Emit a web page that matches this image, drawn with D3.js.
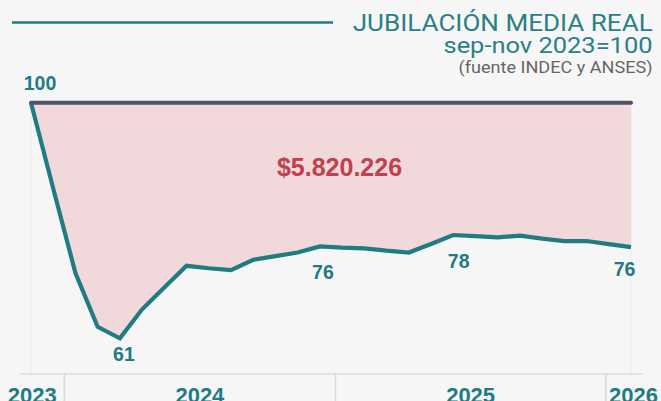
<!DOCTYPE html>
<html>
<head>
<meta charset="utf-8">
<script src="https://cdn.jsdelivr.net/npm/d3@7"></script>
<style>
  html, body { margin: 0; padding: 0; background: #f6f6f6; }
  svg { display: block; }
</style>
</head>
<body>
<div id="chart"></div>
<script>
// ---- data ----
const months = ["2023-11","2023-12","2024-01","2024-02","2024-03","2024-04","2024-05","2024-06",
  "2024-07","2024-08","2024-09","2024-10","2024-11","2024-12","2025-01","2025-02","2025-03",
  "2025-04","2025-05","2025-06","2025-07","2025-08","2025-09","2025-10","2025-11","2025-12",
  "2026-01","2026-02"];
const values = [100, 85.8, 71.8, 62.9, 61.0, 65.8, 69.4, 73.0, 72.6, 72.3, 74.0, 74.6, 75.2, 76.2,
  76.0, 75.9, 75.5, 75.2, 76.6, 78.1, 77.9, 77.7, 78.0, 77.5, 77.1, 77.1, 76.6, 76.1];
const baseValue = 100;
const labelIdx = [0, 4, 13, 19, 27];
const labelText = ["100", "61", "76", "78", "76"];
const yearLabels = ["2023", "2024", "2025", "2026"];
const yearBreaks = ["2024-01-01", "2025-01-01", "2026-01-01"];
const gapText = "$5.820.226";
const titleText = "JUBILACIÓN MEDIA REAL";
const subtitleText = "sep-nov 2023=100";
const sourceText = "(fuente INDEC y ANSES)";

// ---- layout / style ----
const W = 661, H = 401;
const teal = "#217c82", slate = "#4a566a", pink = "#f0d8db", red = "#c0414d";
const labelOffsets = { 0: [9, -12.7], 4: [4, 22.4], 13: [3, 32.3], 19: [5.5, 33.3], 27: [-6.5, 29.4] };

const svg = d3.select("#chart").append("svg").attr("width", W).attr("height", H);
svg.append("rect").attr("width", W).attr("height", H).attr("fill", "#f6f6f6");

const x = d3.scalePoint().domain(months).range([31, 631]);
const y = d3.scaleLinear().domain([100, 61]).range([102.7, 338.3]);
const parse = d3.timeParse("%Y-%m-%d");
const xt = d3.scaleTime().domain([new Date(2023, 10, 17), new Date(2026, 1, 4)]).range([31, 631]);

// faint plot edges
svg.selectAll("line.edge").data([months[0], months[months.length - 1]]).enter().append("line")
  .attr("x1", d => x(d)).attr("x2", d => x(d)).attr("y1", y(baseValue)).attr("y2", 374)
  .attr("stroke", "#ececec").attr("stroke-width", 1);

// area between 100 and series
const data = months.map((m, i) => ({ m, v: values[i] }));
svg.append("path").datum(data)
  .attr("d", d3.area().x(d => x(d.m)).y0(y(baseValue)).y1(d => y(d.v)))
  .attr("fill", pink);

// series line
svg.append("path").datum(data)
  .attr("d", d3.line().x(d => x(d.m)).y(d => y(d.v)))
  .attr("fill", "none").attr("stroke", teal).attr("stroke-width", 4.2);

// base line at 100
svg.append("line")
  .attr("x1", x(months[0])).attr("x2", x(months[months.length - 1]))
  .attr("y1", y(baseValue)).attr("y2", y(baseValue))
  .attr("stroke", slate).attr("stroke-width", 4).attr("stroke-linecap", "round");

// value labels
labelIdx.forEach((idx, k) => {
  const off = labelOffsets[idx];
  svg.append("text")
    .attr("x", x(months[idx]) + off[0]).attr("y", y(values[idx]) + off[1])
    .attr("text-anchor", "middle")
    .attr("font-family", "Liberation Sans, Arial, sans-serif").attr("font-weight", "bold")
    .attr("font-size", 19.5).attr("fill", teal)
    .text(labelText[k]);
});

// gap label
svg.append("text")
  .attr("x", (x(months[0]) + x(months[months.length - 1])) / 2 + 8.5).attr("y", 176)
  .attr("text-anchor", "middle")
  .attr("font-family", "Liberation Sans, Arial, sans-serif").attr("font-weight", "bold")
  .attr("font-size", 25).attr("fill", red)
  .text(gapText);

// x axis: baseline, year separators, labels
svg.append("line").attr("x1", 20).attr("x2", 643).attr("y1", 374).attr("y2", 374)
  .attr("stroke", "#dcdcdc").attr("stroke-width", 1.6);
svg.selectAll("line.sep").data(yearBreaks).enter().append("line")
  .attr("x1", d => xt(parse(d))).attr("x2", d => xt(parse(d)))
  .attr("y1", 374).attr("y2", H)
  .attr("stroke", "#dcdcdc").attr("stroke-width", 1.6);
const clampX = v => Math.max(0, Math.min(W, v));
svg.selectAll("text.year").data(yearLabels).enter().append("text")
  .attr("x", d => (clampX(xt(new Date(+d, 0, 1))) + clampX(xt(new Date(+d + 1, 0, 1)))) / 2)
  .attr("y", 402.5)
  .attr("text-anchor", "middle")
  .attr("font-family", "Liberation Sans, Arial, sans-serif").attr("font-weight", "bold")
  .attr("font-size", 22).attr("fill", teal)
  .text(d => d);

// title block
svg.append("line").attr("x1", 12).attr("x2", 333).attr("y1", 22.5).attr("y2", 22.5)
  .attr("stroke", teal).attr("stroke-width", 2.4);
svg.append("text").attr("x", 652.7).attr("y", 30.7).attr("text-anchor", "end")
  .attr("font-family", "Roboto, sans-serif").attr("font-size", 24.5).attr("fill", "#2a8087")
  .attr("textLength", 300).attr("lengthAdjust", "spacingAndGlyphs")
  .text(titleText);
svg.append("text").attr("x", 652.5).attr("y", 53.3).attr("text-anchor", "end")
  .attr("font-family", "Roboto, sans-serif").attr("font-size", 22.5).attr("fill", "#2a8087")
  .attr("textLength", 209).attr("lengthAdjust", "spacingAndGlyphs")
  .text(subtitleText);
svg.append("text").attr("x", 652.5).attr("y", 72.7).attr("text-anchor", "end")
  .attr("font-family", "Roboto, sans-serif").attr("font-size", 16.8).attr("fill", "#666666")
  .attr("textLength", 194).attr("lengthAdjust", "spacingAndGlyphs")
  .text(sourceText);
</script>
</body>
</html>
